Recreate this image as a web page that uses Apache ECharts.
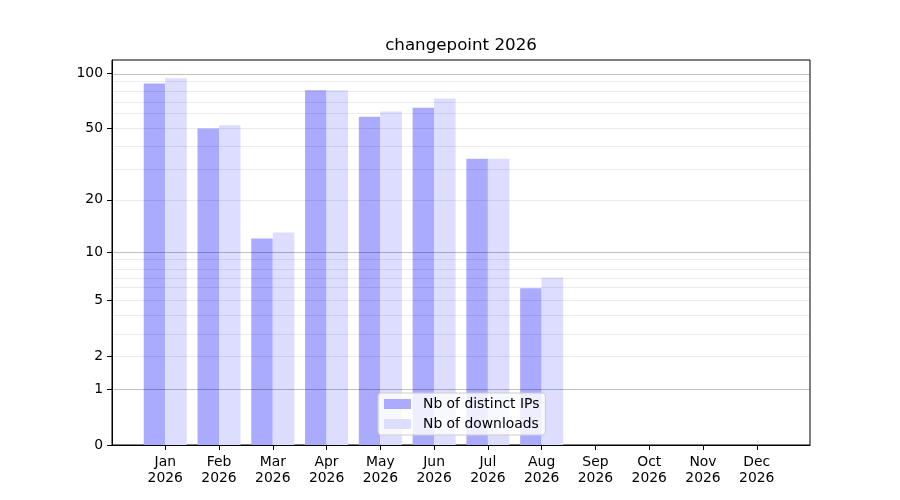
<!DOCTYPE html>
<html>
<head>
<meta charset="utf-8">
<script src="https://cdn.jsdelivr.net/npm/echarts@6/dist/echarts.min.js"></script>
<style>html,body{margin:0;padding:0;background:#fff}#c{width:900px;height:500px}</style>
</head>
<body>
<div id="c"></div>
<script>
const months = ['Jan','Feb','Mar','Apr','May','Jun','Jul','Aug','Sep','Oct','Nov','Dec'];
const year = '2026';
const distinctIPs = [88, 50, 12, 81, 58, 65, 34, 6, 0, 0, 0, 0];
const downloads   = [94, 52, 13, 81, 62, 73, 34, 7, 0, 0, 0, 0];
const yTickValues = [0, 1, 2, 5, 10, 20, 50, 100];
const majorGrid = [1, 10, 100];
const minorGrid = [2, 3, 4, 5, 6, 7, 8, 9, 20, 30, 40, 50, 60, 70, 80, 90];

const FONT = 'DejaVu Sans';
const tf = v => Math.log10(1 + v);
const inv = t => Math.round(Math.pow(10, t) - 1);

const gridLeft = 112, gridRight = 90, gridTop = 60, gridBottom = 55;
const plotW = 900 - gridLeft - gridRight;
const xMin = -0.99, xMax = 11.99;
const barW = 0.4 * plotW / (xMax - xMin);
const yMax = 1.05 * tf(Math.max(...distinctIPs, ...downloads));

const chart = echarts.init(document.getElementById('c'), null, {renderer: 'canvas'});
chart.setOption({
  animation: false,
  backgroundColor: '#fff',
  title: {
    text: 'changepoint ' + year, left: gridLeft + plotW / 2, textAlign: 'center', top: 37, padding: 0,
    textStyle: {fontFamily: FONT, fontSize: 16.7, fontWeight: 'normal', color: '#000'}
  },
  grid: {left: gridLeft, right: gridRight, top: gridTop, bottom: gridBottom,
         show: true, borderColor: '#000', borderWidth: 1, backgroundColor: 'transparent'},
  legend: {
    orient: 'vertical', left: 378, top: 393,
    itemWidth: 27, itemHeight: 10, itemGap: 6,
    padding: [4, 6, 4, 6],
    backgroundColor: 'rgba(255,255,255,0.8)', borderColor: '#cccccc', borderWidth: 1, borderRadius: 3,
    icon: 'rect',
    textStyle: {fontFamily: FONT, fontSize: 13.9, color: '#000', lineHeight: 14, padding: [0, 0, 0, 7]},
    data: ['Nb of distinct IPs', 'Nb of downloads'],
    z: 10
  },
  xAxis: {
    type: 'value', min: xMin, max: xMax,
    axisLine: {show: true, onZero: false, lineStyle: {color: '#000', width: 1}},
    axisTick: {show: true, length: 5, inside: false, customValues: months.map((m, i) => i), lineStyle: {color: '#000'}},
    axisLabel: {
      show: true, customValues: months.map((m, i) => i), margin: 9,
      fontFamily: FONT, fontSize: 13.9, color: '#000', lineHeight: 16,
      formatter: v => months[Math.round(v)] + '\n' + year
    },
    splitLine: {show: false}
  },
  yAxis: {
    type: 'value', min: 0, max: yMax,
    axisLine: {show: true, onZero: false, lineStyle: {color: '#000', width: 1}},
    axisTick: {show: true, length: 5, inside: false, customValues: yTickValues.map(tf), lineStyle: {color: '#000'}},
    axisLabel: {
      show: true, customValues: yTickValues.map(tf), margin: 9,
      fontFamily: FONT, fontSize: 13.9, color: '#000',
      formatter: v => String(inv(v))
    },
    splitLine: {show: false}
  },
  series: [
    {
      name: 'Nb of distinct IPs', type: 'bar', barWidth: barW, barGap: '0%',
      itemStyle: {color: '#aaaaff'},
      data: distinctIPs.map((v, i) => [i, tf(v)]), z: 2
    },
    {
      name: 'Nb of downloads', type: 'bar', barWidth: barW, barGap: '0%',
      itemStyle: {color: '#ddddff'},
      data: downloads.map((v, i) => [i, tf(v)]), z: 2
    },
    {
      name: 'grid', type: 'line', data: [], z: 5, silent: true,
      markLine: {
        silent: true, symbol: 'none', animation: false,
        label: {show: false},
        data: [
          ...minorGrid.map(v => ({yAxis: tf(v), lineStyle: {color: 'rgba(0,0,0,0.08)', width: 1, type: 'solid'}})),
          ...majorGrid.map(v => ({yAxis: tf(v), lineStyle: {color: 'rgba(0,0,0,0.25)', width: 1, type: 'solid'}}))
        ]
      }
    }
  ]
});
</script>
</body>
</html>
